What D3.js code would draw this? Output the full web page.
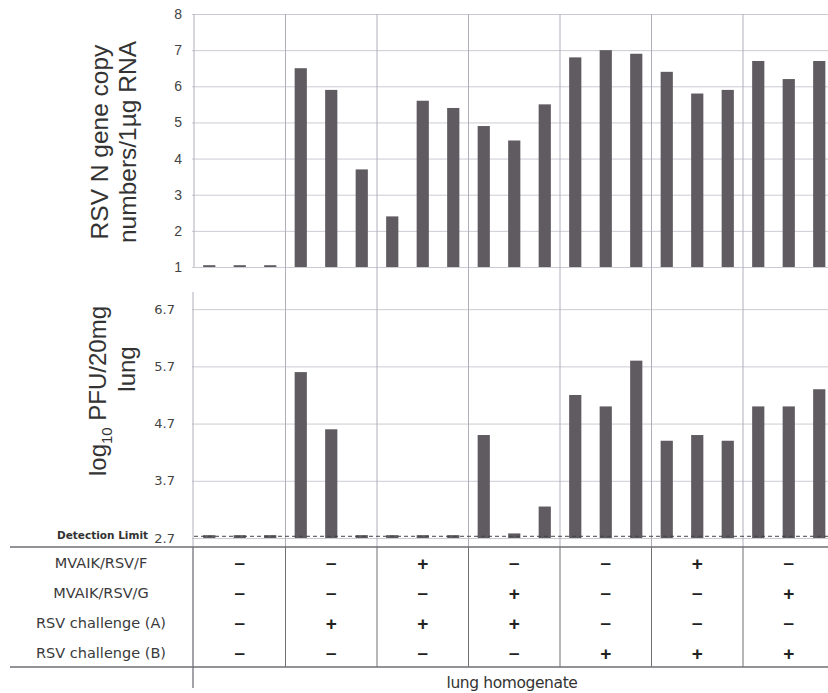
<!DOCTYPE html>
<html>
<head>
<meta charset="utf-8">
<script src="https://cdn.jsdelivr.net/npm/d3@7"></script>
<style>
  html, body { margin: 0; padding: 0; background: #fff; }
  svg { display: block; }
</style>
</head>
<body>
<div id="chart"></div>
<script>
// Seven treatment groups, three animals each
const GROUPS = [0, 1, 2, 3, 4, 5, 6];
const REPLICATES = [0, 1, 2];

// RSV N gene copy numbers / 1 ug RNA (log scale values)
const COPY_NUMBERS = [
  [1.05, 1.05, 1.05],
  [6.5, 5.9, 3.7],
  [2.4, 5.6, 5.4],
  [4.9, 4.5, 5.5],
  [6.8, 7.0, 6.9],
  [6.4, 5.8, 5.9],
  [6.7, 6.2, 6.7]
];
// log10 PFU / 20mg lung
const PFU = [
  [2.75, 2.75, 2.75],
  [5.6, 4.6, 2.75],
  [2.75, 2.75, 2.75],
  [4.5, 2.78, 3.25],
  [5.2, 5.0, 5.8],
  [4.4, 4.5, 4.4],
  [5.0, 5.0, 5.3]
];
const DETECTION_LIMIT = 2.73;

const TOP_TICKS = [1, 2, 3, 4, 5, 6, 7, 8];
const BOTTOM_TICKS = [2.7, 3.7, 4.7, 5.7, 6.7];

const ROW_LABELS = ['MVAIK/RSV/F', 'MVAIK/RSV/G', 'RSV challenge (A)', 'RSV challenge (B)'];
const ROW_SIGNS = [
  ['-', '-', '+', '-', '-', '+', '-'],
  ['-', '-', '-', '+', '-', '-', '+'],
  ['-', '+', '+', '+', '-', '-', '-'],
  ['-', '-', '-', '-', '+', '+', '+']
];

const W = 828, H = 693;
const BAR = '#5f5b61';
const GRID = '#cbcbd4';
const DIVIDER = '#aeaebb';
const TABLE_LINE = '#6f6f74';
const ALT_FONT = '"DejaVu Sans", sans-serif';

const svg = d3.select('#chart').append('svg')
  .attr('width', W).attr('height', H);

const x = d3.scaleBand().domain(GROUPS).range([194, 834.5]);
const xi = d3.scaleBand().domain(REPLICATES).range([0, x.bandwidth()])
  .paddingInner(0.6).paddingOuter(0.3);

const yTop = d3.scaleLinear().domain([1, 8]).range([267, 14]);
const yBot = d3.scaleLinear().domain([2.7, 7.0]).range([538, 292]);

const tableTop = 547, tableBottom = 667, rowH = 30;

// ---- gridlines via axes ----
const gridTop = svg.append('g')
  .attr('transform', 'translate(192,0)')
  .call(d3.axisLeft(yTop).tickValues(TOP_TICKS).tickSize(-(W - 192)).tickFormat(''));
gridTop.select('.domain').remove();
gridTop.selectAll('line').attr('stroke', GRID);

const gridBot = svg.append('g')
  .attr('transform', 'translate(192,0)')
  .call(d3.axisLeft(yBot).tickValues(BOTTOM_TICKS).tickSize(-(W - 192)).tickFormat(''));
gridBot.select('.domain').remove();
gridBot.selectAll('line').attr('stroke', GRID);

// ---- group dividers and left axis lines ----
svg.append('g').selectAll('line')
  .data(GROUPS.slice(1))
  .join('line')
  .attr('x1', d => x(d)).attr('x2', d => x(d))
  .attr('y1', yTop(8)).attr('y2', tableTop)
  .attr('stroke', DIVIDER);

svg.append('line')
  .attr('x1', 194).attr('x2', 194).attr('y1', yTop(8)).attr('y2', yTop(1))
  .attr('stroke', DIVIDER);
svg.append('line')
  .attr('x1', 193).attr('x2', 193).attr('y1', 292).attr('y2', 688)
  .attr('stroke', DIVIDER);

// ---- bars ----
function drawBars(data, y, base) {
  const g = svg.append('g');
  g.selectAll('g')
    .data(data)
    .join('g')
    .attr('transform', (d, i) => `translate(${x(GROUPS[i])},0)`)
    .selectAll('rect')
    .data(d => d)
    .join('rect')
    .attr('x', (d, j) => xi(REPLICATES[j]))
    .attr('width', xi.bandwidth())
    .attr('y', d => y(d))
    .attr('height', d => Math.max(1.5, y(base) - y(d)))
    .attr('fill', BAR);
}
drawBars(COPY_NUMBERS, yTop, 1);
drawBars(PFU, yBot, 2.7);

// detection limit
svg.append('line')
  .attr('x1', 194).attr('x2', W)
  .attr('y1', yBot(DETECTION_LIMIT)).attr('y2', yBot(DETECTION_LIMIT))
  .attr('stroke', '#444').attr('stroke-width', 1)
  .attr('stroke-dasharray', '4,3');

// ---- tick labels ----
const axTop = svg.append('g')
  .attr('transform', 'translate(185,0)')
  .call(d3.axisLeft(yTop).tickValues(TOP_TICKS).tickSize(0).tickFormat(d3.format('d')));
axTop.select('.domain').remove();
axTop.selectAll('text')
  .attr('font-family', '"Liberation Sans", Arial, sans-serif')
  .attr('font-size', 14).attr('fill', '#444');

const axBot = svg.append('g')
  .attr('transform', 'translate(178,0)')
  .call(d3.axisLeft(yBot).tickValues(BOTTOM_TICKS).tickSize(0).tickFormat(d3.format('.1f')));
axBot.select('.domain').remove();
axBot.selectAll('text')
  .attr('font-family', ALT_FONT)
  .attr('font-size', 13).attr('fill', '#444');

svg.append('text')
  .attr('x', 148).attr('y', yBot(2.7) + 1)
  .attr('text-anchor', 'end')
  .attr('font-family', ALT_FONT).attr('font-weight', 'bold')
  .attr('font-size', 10.5).attr('fill', '#333')
  .text('Detection Limit');

// ---- y axis titles ----
const titleFont = '"Liberation Sans", Arial, sans-serif';
const t1 = svg.append('g').attr('transform', 'translate(0,142) rotate(-90)')
  .attr('font-family', titleFont).attr('font-size', 24.5).attr('fill', '#333')
  .attr('text-anchor', 'middle');
t1.append('text').attr('x', 0).attr('y', 108).text('RSV N gene copy');
t1.append('text').attr('x', 0).attr('y', 136).text('numbers/1\u00b5g RNA');

const t2 = svg.append('g').attr('transform', 'translate(0,391) rotate(-90)')
  .attr('font-family', titleFont).attr('font-size', 24).attr('fill', '#333')
  .attr('text-anchor', 'middle');
const l1 = t2.append('text').attr('x', 0).attr('y', 106);
l1.append('tspan').text('log');
l1.append('tspan').attr('font-size', 15).attr('dy', 6).text('10');
l1.append('tspan').attr('dy', -6).text(' PFU/20mg');
t2.append('text').attr('x', 22).attr('y', 135).text('lung');

// ---- table ----
svg.append('g').selectAll('line')
  .data([tableTop, tableBottom])
  .join('line')
  .attr('x1', 10).attr('x2', W)
  .attr('y1', d => d).attr('y2', d => d)
  .attr('stroke', TABLE_LINE).attr('stroke-width', 1.5);

svg.append('g').selectAll('line')
  .data(GROUPS.slice(1))
  .join('line')
  .attr('x1', d => x(d)).attr('x2', d => x(d))
  .attr('y1', tableTop).attr('y2', tableBottom)
  .attr('stroke', TABLE_LINE);
svg.append('line')
  .attr('x1', 193).attr('x2', 193).attr('y1', tableTop).attr('y2', 688)
  .attr('stroke', TABLE_LINE);

const rowY = i => tableTop + rowH * i + rowH / 2 + 1;

svg.append('g').selectAll('text')
  .data(ROW_LABELS)
  .join('text')
  .attr('x', 101).attr('y', (d, i) => rowY(i))
  .attr('dy', '0.35em')
  .attr('text-anchor', 'middle')
  .attr('font-family', ALT_FONT).attr('font-size', 14.5).attr('fill', '#3a3a3a')
  .text(d => d);

const signRows = svg.append('g').selectAll('g')
  .data(ROW_SIGNS)
  .join('g');
signRows.selectAll('text')
  .data((d, i) => d.map(s => ({ s, row: i })))
  .join('text')
  .attr('x', (d, j) => x(GROUPS[j]) + x.bandwidth() / 2)
  .attr('y', d => rowY(d.row))
  .attr('dy', '0.35em')
  .attr('text-anchor', 'middle')
  .attr('font-family', titleFont).attr('font-weight', 'bold')
  .attr('font-size', d => d.s === '+' ? 19 : 17).attr('fill', '#222')
  .text(d => d.s === '-' ? '\u2012' : d.s);

svg.append('text')
  .attr('x', 512).attr('y', 688)
  .attr('text-anchor', 'middle')
  .attr('font-family', ALT_FONT).attr('font-size', 15.5).attr('fill', '#333')
  .attr('letter-spacing', -0.4)
  .text('lung homogenate');
</script>
</body>
</html>
